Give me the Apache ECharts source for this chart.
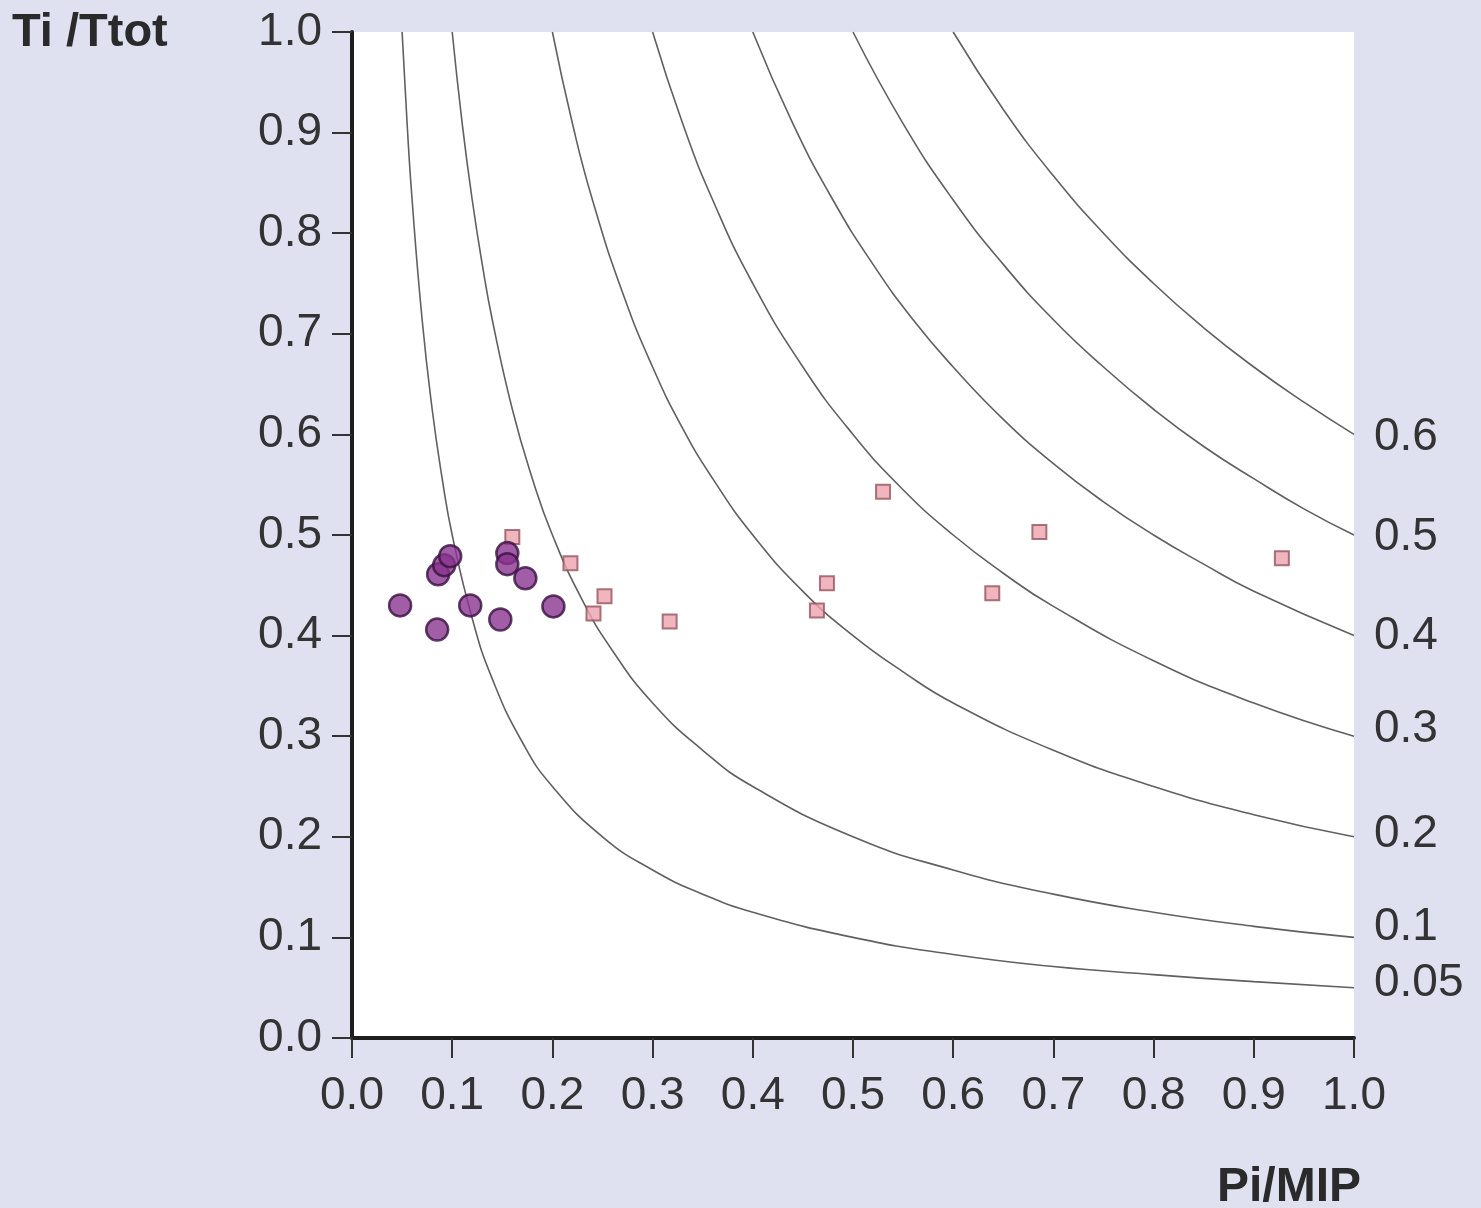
<!DOCTYPE html>
<html>
<head>
<meta charset="utf-8">
<script src="https://cdn.jsdelivr.net/npm/echarts@6/dist/echarts.min.js"></script>
<style>
html,body{margin:0;padding:0;background:#dfe1f0;}
#chart{width:1481px;height:1208px;}
</style>
</head>
<body>
<div id="chart"></div>
<script>
// Axis ticks
const xTicks = ['0.0','0.1','0.2','0.3','0.4','0.5','0.6','0.7','0.8','0.9','1.0'];
const yTicks = ['0.0','0.1','0.2','0.3','0.4','0.5','0.6','0.7','0.8','0.9','1.0'];

// Isopleth curves (Pi/MIP x Ti/Ttot)
const curveLabels = ['0.05','0.1','0.2','0.3','0.4','0.5','0.6'];
const curve005 = [[0.05,1.0],[0.055,0.909],[0.06,0.833],[0.07,0.714],[0.08,0.625],[0.09,0.556],[0.1,0.5],[0.12,0.417],[0.14,0.357],[0.17,0.294],[0.2,0.25],[0.25,0.2],[0.3,0.167],[0.35,0.143],[0.4,0.125],[0.5,0.1],[0.6,0.083],[0.7,0.071],[0.8,0.063],[0.9,0.056],[1.0,0.05]];
const curve01 = [[0.1,1.0],[0.11,0.909],[0.12,0.833],[0.13,0.769],[0.14,0.714],[0.16,0.625],[0.18,0.556],[0.2,0.5],[0.23,0.435],[0.26,0.385],[0.3,0.333],[0.35,0.286],[0.4,0.25],[0.5,0.2],[0.6,0.167],[0.7,0.143],[0.8,0.125],[0.9,0.111],[1.0,0.1]];
const curve02 = [[0.2,1.0],[0.22,0.909],[0.24,0.833],[0.27,0.741],[0.3,0.667],[0.33,0.606],[0.36,0.556],[0.4,0.5],[0.45,0.444],[0.5,0.4],[0.55,0.364],[0.6,0.333],[0.7,0.286],[0.8,0.25],[0.9,0.222],[1.0,0.2]];
const curve03 = [[0.3,1.0],[0.33,0.909],[0.36,0.833],[0.4,0.75],[0.45,0.667],[0.5,0.6],[0.55,0.545],[0.6,0.5],[0.65,0.462],[0.7,0.429],[0.8,0.375],[0.9,0.333],[1.0,0.3]];
const curve04 = [[0.4,1.0],[0.44,0.909],[0.48,0.833],[0.52,0.769],[0.56,0.714],[0.6,0.667],[0.65,0.615],[0.7,0.571],[0.75,0.533],[0.8,0.5],[0.85,0.471],[0.9,0.444],[1.0,0.4]];
const curve05 = [[0.5,1.0],[0.55,0.909],[0.6,0.833],[0.65,0.769],[0.7,0.714],[0.75,0.667],[0.8,0.625],[0.85,0.588],[0.9,0.556],[0.95,0.526],[1.0,0.5]];
const curve06 = [[0.6,1.0],[0.65,0.923],[0.7,0.857],[0.75,0.8],[0.8,0.75],[0.85,0.706],[0.9,0.667],[0.95,0.632],[1.0,0.6]];

// Scatter data: [Pi/MIP, Ti/Ttot]
const circlePoints = [[0.048,0.430],[0.085,0.406],[0.086,0.461],[0.092,0.470],[0.098,0.479],[0.118,0.430],[0.148,0.416],[0.155,0.482],[0.155,0.471],[0.173,0.457],[0.201,0.429]];
const squarePoints = [[0.160,0.498],[0.218,0.472],[0.252,0.439],[0.241,0.422],[0.317,0.414],[0.530,0.543],[0.474,0.452],[0.464,0.425],[0.686,0.503],[0.639,0.442],[0.928,0.477]];

const curves = [curve005, curve01, curve02, curve03, curve04, curve05, curve06];
const labelOffsets = [[0,-4],[0,-10],[0,-2],[0,-7],[0,1],[0,2],[0,3]];

const chart = echarts.init(document.getElementById('chart'), null, {renderer:'canvas'});
const FONT = '"Liberation Sans", Arial, Helvetica, sans-serif';

const series = curves.map((c, i) => ({
  type: 'line',
  name: curveLabels[i],
  data: c,
  smooth: 0.5,
  showSymbol: false,
  silent: true,
  z: 2,
  lineStyle: {color: '#606060', width: 1.6},
  endLabel: {
    show: true,
    formatter: curveLabels[i],
    fontFamily: FONT,
    fontSize: 46,
    color: '#333',
    distance: 20,
    offset: labelOffsets[i]
  }
}));

series.push({
  type: 'scatter',
  name: 'squares',
  data: squarePoints,
  symbol: 'rect',
  symbolSize: 14,
  z: 3,
  itemStyle: {color: '#eca3ae', borderColor: '#95545c', borderWidth: 2}
});
series.push({
  type: 'scatter',
  name: 'circles',
  data: circlePoints,
  symbol: 'circle',
  symbolSize: 22,
  z: 4,
  itemStyle: {color: '#8a358e', borderColor: '#3a1242', borderWidth: 2.5}
});

chart.setOption({
  backgroundColor: '#dfe1f0',
  animation: false,
  grid: {
    left: 352, top: 32, right: 127, bottom: 170,
    show: true, backgroundColor: '#ffffff', borderWidth: 0
  },
  xAxis: {
    type: 'value', min: 0, max: 1, interval: 0.1,
    axisLine: {show: true, onZero: false, lineStyle: {color: '#1e1e1e', width: 4}},
    axisTick: {show: true, length: 20, lineStyle: {color: '#333', width: 2}},
    splitLine: {show: false},
    axisLabel: {
      margin: 35, fontSize: 46, color: '#333', fontFamily: FONT,
      formatter: (v) => xTicks[Math.round(v * 10)]
    }
  },
  yAxis: {
    type: 'value', min: 0, max: 1, interval: 0.1,
    axisLine: {show: true, onZero: false, lineStyle: {color: '#1e1e1e', width: 4}},
    axisTick: {show: true, length: 20, lineStyle: {color: '#333', width: 2}},
    splitLine: {show: false},
    axisLabel: {
      margin: 30, fontSize: 46, color: '#333', fontFamily: FONT,
      formatter: (v) => yTicks[Math.round(v * 10)]
    }
  },
  graphic: [
    {type: 'text', left: 12, top: 10, style: {text: 'Ti /Ttot', font: 'bold 47px ' + FONT, fill: '#2a2a2a'}},
    {type: 'text', left: 1217, top: 1164, style: {text: 'Pi/MIP', font: 'bold 48px ' + FONT, fill: '#2a2a2a'}}
  ],
  series: series
});
</script>
</body>
</html>
